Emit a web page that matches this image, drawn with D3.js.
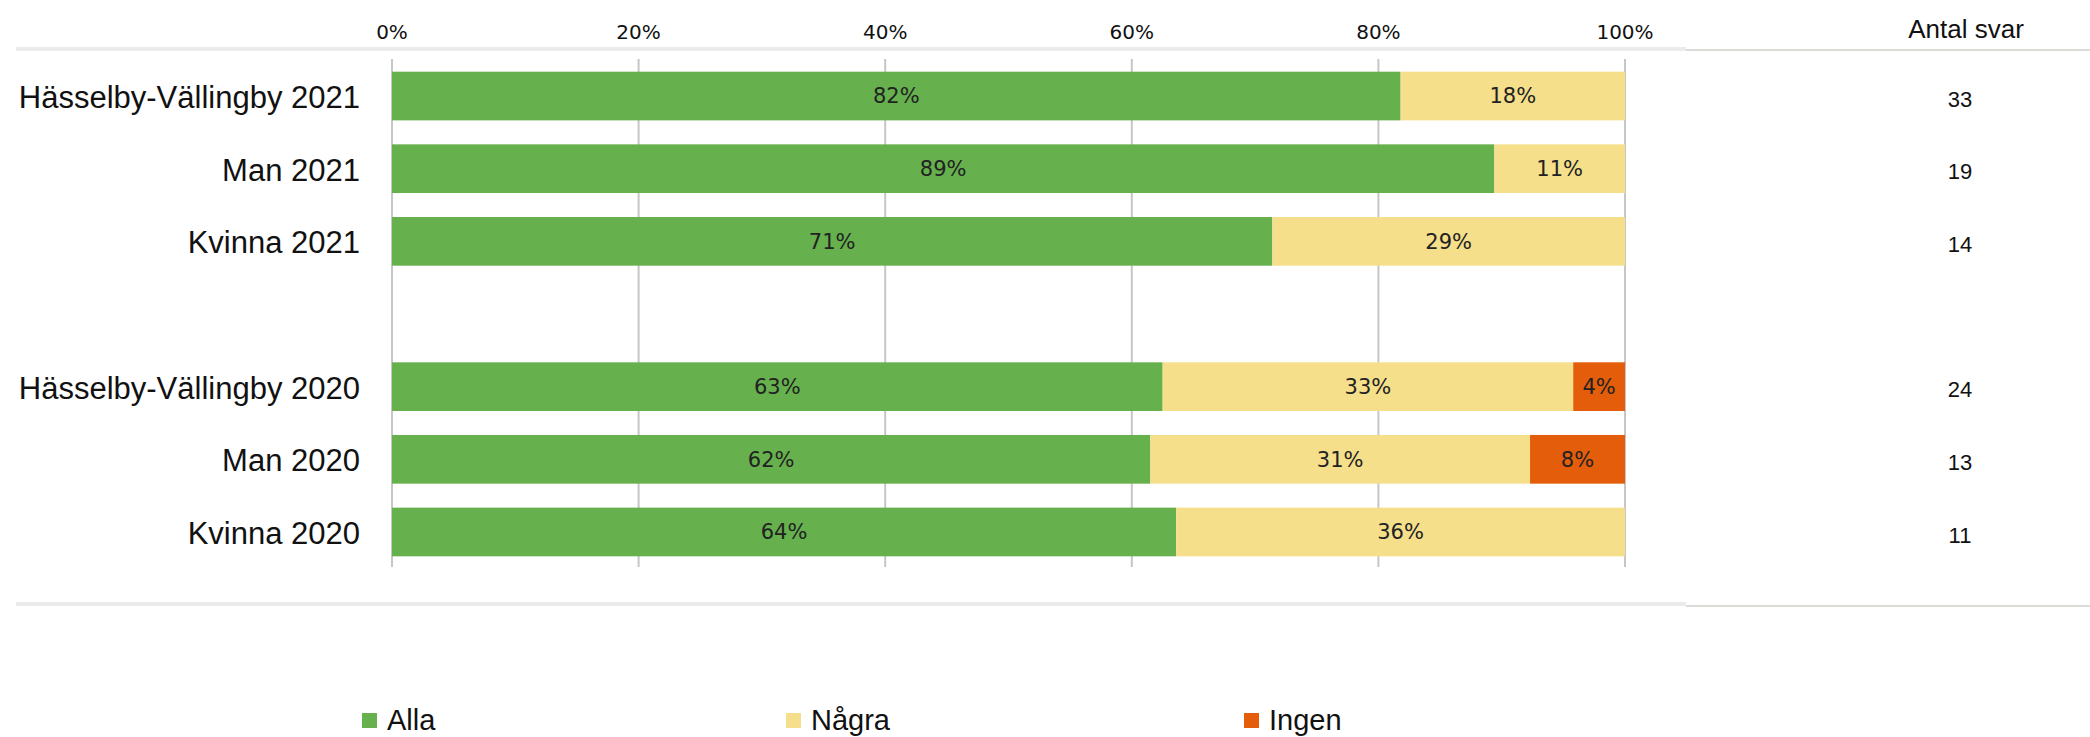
<!DOCTYPE html>
<html lang="sv">
<head>
<meta charset="UTF-8">
<title>Antal svar</title>
<script src="https://cdn.jsdelivr.net/npm/d3@7"></script>
<style>
  body { margin: 0; background: #fff; }
  svg text { fill: #111; }
</style>
</head>
<body>
<svg></svg>
<script>
  // data
  const categories = ['Hässelby-Vällingby 2021', 'Man 2021', 'Kvinna 2021',
                      'Hässelby-Vällingby 2020', 'Man 2020', 'Kvinna 2020'];
  const alla  = [81.8, 89.4, 71.4, 62.5, 61.5, 63.6];
  const nagra = [18.2, 10.6, 28.6, 33.3, 30.8, 36.4];
  const ingen = [0, 0, 0, 4.2, 7.7, 0];
  const antalSvar = [33, 19, 14, 24, 13, 11];
  const seriesNames = ['Alla', 'Några', 'Ingen'];
  const seriesColors = ['#66b14d', '#f5df8b', '#e35d0b'];
  const xTicks = [0, 20, 40, 60, 80, 100];

  const W = 2090, H = 737;
  const svg = d3.select('svg').attr('width', W).attr('height', H);

  // rows: 2021 group, a blank spacer row, then 2020 group
  const rowDomain = [...categories.slice(0, 3), '__gap', ...categories.slice(3)];

  const x = d3.scaleLinear().domain([0, 100]).range([392, 1625]);
  const y = d3.scaleBand().domain(rowDomain).range([59.7, 568.3])
    .paddingInner(0.33).paddingOuter(0.165);
  const color = d3.scaleOrdinal().domain(seriesNames).range(seriesColors);

  // header / footer lines
  svg.append('line').attr('x1', 16).attr('x2', 1686).attr('y1', 49).attr('y2', 49)
    .attr('stroke', '#ebebeb').attr('stroke-width', 4);
  svg.append('line').attr('x1', 1686).attr('x2', W).attr('y1', 50).attr('y2', 50)
    .attr('stroke', '#dcdcd6').attr('stroke-width', 2);
  svg.append('line').attr('x1', 16).attr('x2', 1686).attr('y1', 604).attr('y2', 604)
    .attr('stroke', '#ebebeb').attr('stroke-width', 4);
  svg.append('line').attr('x1', 1686).attr('x2', W).attr('y1', 606).attr('y2', 606)
    .attr('stroke', '#dcdcd6').attr('stroke-width', 2);

  // gridlines
  svg.append('g').selectAll('line').data(xTicks).join('line')
    .attr('x1', d => x(d)).attr('x2', d => x(d))
    .attr('y1', 59).attr('y2', 567)
    .attr('stroke', '#c6c6c6').attr('stroke-width', 2);

  // top axis labels
  svg.append('g').selectAll('text').data(xTicks).join('text')
    .attr('x', d => x(d)).attr('y', 32).attr('dy', '0.35em')
    .attr('text-anchor', 'middle')
    .style('font-family', 'DejaVu Sans, Verdana, sans-serif').style('font-size', '20px')
    .text(d => d + '%');

  // stacked data
  const table = categories.map((c, i) => ({ cat: c, Alla: alla[i], 'Några': nagra[i], Ingen: ingen[i] }));
  const stack = d3.stack().keys(seriesNames)(table);

  const layers = svg.append('g').selectAll('g').data(stack).join('g')
    .attr('fill', d => color(d.key));
  layers.selectAll('rect').data(d => d).join('rect')
    .attr('x', d => x(d[0]))
    .attr('y', d => y(d.data.cat))
    .attr('width', d => x(d[1]) - x(d[0]))
    .attr('height', y.bandwidth());

  // value labels
  layers.selectAll('text').data(d => d.filter(v => v[1] - v[0] > 0)).join('text')
    .attr('x', d => (x(d[0]) + x(d[1])) / 2)
    .attr('y', d => y(d.data.cat) + y.bandwidth() / 2)
    .attr('dy', '0.35em').attr('text-anchor', 'middle')
    .style('font-family', 'DejaVu Sans, Verdana, sans-serif').style('font-size', '21px')
    .style('fill', '#222')
    .text(d => Math.round(d[1] - d[0]) + '%');

  // category labels
  svg.append('g').selectAll('text').data(categories).join('text')
    .attr('x', 360).attr('y', d => y(d) + y.bandwidth() / 2 + 1)
    .attr('dy', '0.35em').attr('text-anchor', 'end')
    .style('font-family', 'Liberation Sans, Arial, sans-serif').style('font-size', '31px')
    .text(d => d);

  // Antal svar column
  svg.append('text').attr('x', 1966).attr('y', 29).attr('dy', '0.35em')
    .attr('text-anchor', 'middle')
    .style('font-family', 'Liberation Sans, Arial, sans-serif').style('font-size', '26px')
    .text('Antal svar');
  svg.append('g').selectAll('text').data(antalSvar).join('text')
    .attr('x', 1960).attr('y', (d, i) => y(categories[i]) + y.bandwidth() / 2 + 3)
    .attr('dy', '0.35em').attr('text-anchor', 'middle')
    .style('font-family', 'Liberation Sans, Arial, sans-serif').style('font-size', '22px')
    .text(d => d);

  // legend
  const legendX = [362, 786, 1244];
  const legend = svg.append('g').selectAll('g').data(seriesNames).join('g')
    .attr('transform', (d, i) => `translate(${legendX[i]}, 720)`);
  legend.append('rect').attr('x', 0).attr('y', -7).attr('width', 15).attr('height', 15)
    .attr('fill', d => color(d));
  legend.append('text').attr('x', 25).attr('dy', '0.35em')
    .style('font-family', 'Liberation Sans, Arial, sans-serif').style('font-size', '29px')
    .text(d => d);
</script>
</body>
</html>
